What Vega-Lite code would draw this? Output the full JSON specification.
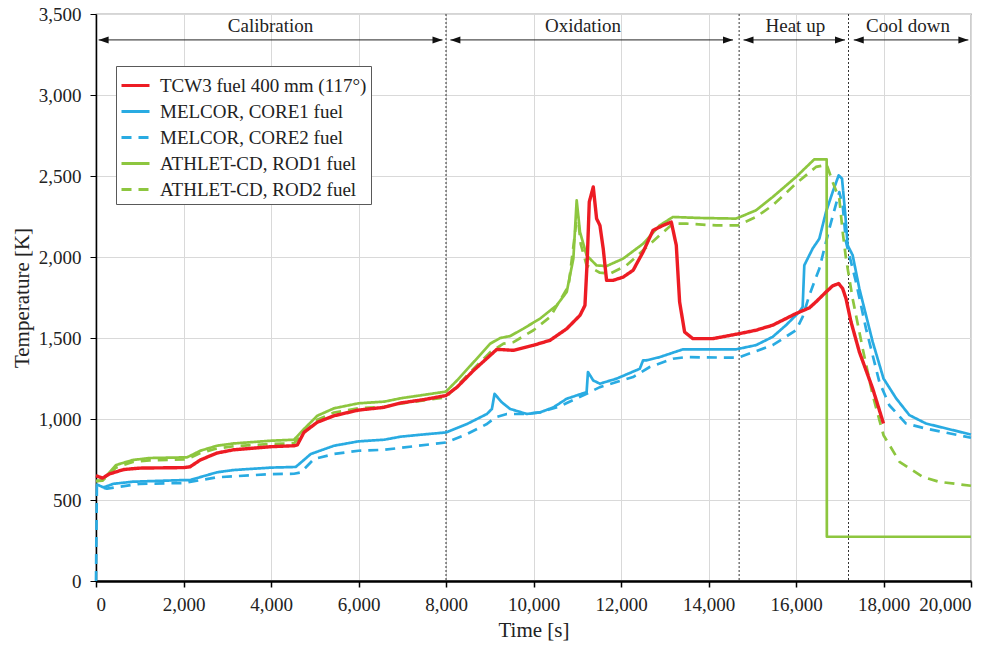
{
  "$schema": "https://vega.github.io/schema/vega-lite/v6.json",
  "width": 875,
  "height": 567,
  "autosize": {"type": "none"},
  "padding": {"left": 96, "top": 14, "right": 32, "bottom": 65},
  "background": "white",
  "config": {
    "font": "Liberation Serif",
    "view": {"stroke": "#595959", "strokeWidth": 1.2},
    "axis": {"grid": true, "gridColor": "#d9d9d9", "gridWidth": 1, "domainColor": "#000", "tickColor": "#000", "tickSize": 6, "labelFont": "Liberation Serif", "labelFontSize": 19, "labelColor": "#222", "titleFont": "Liberation Serif", "titleFontSize": 21, "titleFontWeight": "normal", "titleColor": "#222"},
    "axisX": {"domainWidth": 2.5, "tickWidth": 1.5, "labelPadding": 8, "titlePadding": 5, "tickCount": 10},
    "axisY": {"domainWidth": 1.5, "tickWidth": 1, "labelPadding": 9, "titlePadding": 6, "tickCount": 7},
    "text": {"font": "Liberation Serif"}
  },
  "datasets": {
    "phases": [
      {"phase": "Calibration", "start": 60, "end": 7920, "mid": 3990},
      {"phase": "Oxidation", "start": 8100, "end": 14560, "mid": 11130},
      {"phase": "Heat up", "start": 14800, "end": 17120, "mid": 15985},
      {"phase": "Cool down", "start": 17320, "end": 19940, "mid": 18560}
    ],
    "bounds": [{"t": 8000}, {"t": 14700}, {"t": 17200}],
    "temps": [
      {"series": "TCW3 fuel 400 mm (117°)", "t": 0, "T": 650},
      {"series": "TCW3 fuel 400 mm (117°)", "t": 150, "T": 635},
      {"series": "TCW3 fuel 400 mm (117°)", "t": 300, "T": 660},
      {"series": "TCW3 fuel 400 mm (117°)", "t": 630, "T": 688},
      {"series": "TCW3 fuel 400 mm (117°)", "t": 1000, "T": 697},
      {"series": "TCW3 fuel 400 mm (117°)", "t": 2000, "T": 700},
      {"series": "TCW3 fuel 400 mm (117°)", "t": 2150, "T": 705},
      {"series": "TCW3 fuel 400 mm (117°)", "t": 2384, "T": 747},
      {"series": "TCW3 fuel 400 mm (117°)", "t": 2765, "T": 790},
      {"series": "TCW3 fuel 400 mm (117°)", "t": 3146, "T": 810},
      {"series": "TCW3 fuel 400 mm (117°)", "t": 4000, "T": 829},
      {"series": "TCW3 fuel 400 mm (117°)", "t": 4526, "T": 835},
      {"series": "TCW3 fuel 400 mm (117°)", "t": 4602, "T": 840},
      {"series": "TCW3 fuel 400 mm (117°)", "t": 4754, "T": 918},
      {"series": "TCW3 fuel 400 mm (117°)", "t": 5058, "T": 980},
      {"series": "TCW3 fuel 400 mm (117°)", "t": 5440, "T": 1020},
      {"series": "TCW3 fuel 400 mm (117°)", "t": 6000, "T": 1055},
      {"series": "TCW3 fuel 400 mm (117°)", "t": 6585, "T": 1072},
      {"series": "TCW3 fuel 400 mm (117°)", "t": 6966, "T": 1099},
      {"series": "TCW3 fuel 400 mm (117°)", "t": 7500, "T": 1120},
      {"series": "TCW3 fuel 400 mm (117°)", "t": 8000, "T": 1145},
      {"series": "TCW3 fuel 400 mm (117°)", "t": 8251, "T": 1196},
      {"series": "TCW3 fuel 400 mm (117°)", "t": 8631, "T": 1300},
      {"series": "TCW3 fuel 400 mm (117°)", "t": 9011, "T": 1393},
      {"series": "TCW3 fuel 400 mm (117°)", "t": 9163, "T": 1430},
      {"series": "TCW3 fuel 400 mm (117°)", "t": 9543, "T": 1424},
      {"series": "TCW3 fuel 400 mm (117°)", "t": 10000, "T": 1455},
      {"series": "TCW3 fuel 400 mm (117°)", "t": 10380, "T": 1486},
      {"series": "TCW3 fuel 400 mm (117°)", "t": 10759, "T": 1557},
      {"series": "TCW3 fuel 400 mm (117°)", "t": 11063, "T": 1640},
      {"series": "TCW3 fuel 400 mm (117°)", "t": 11176, "T": 1701},
      {"series": "TCW3 fuel 400 mm (117°)", "t": 11230, "T": 1990},
      {"series": "TCW3 fuel 400 mm (117°)", "t": 11275, "T": 2340},
      {"series": "TCW3 fuel 400 mm (117°)", "t": 11366, "T": 2432},
      {"series": "TCW3 fuel 400 mm (117°)", "t": 11442, "T": 2237},
      {"series": "TCW3 fuel 400 mm (117°)", "t": 11518, "T": 2195},
      {"series": "TCW3 fuel 400 mm (117°)", "t": 11594, "T": 2051},
      {"series": "TCW3 fuel 400 mm (117°)", "t": 11670, "T": 1856},
      {"series": "TCW3 fuel 400 mm (117°)", "t": 11822, "T": 1856},
      {"series": "TCW3 fuel 400 mm (117°)", "t": 12050, "T": 1876},
      {"series": "TCW3 fuel 400 mm (117°)", "t": 12277, "T": 1918},
      {"series": "TCW3 fuel 400 mm (117°)", "t": 12505, "T": 2031},
      {"series": "TCW3 fuel 400 mm (117°)", "t": 12733, "T": 2165},
      {"series": "TCW3 fuel 400 mm (117°)", "t": 12960, "T": 2195},
      {"series": "TCW3 fuel 400 mm (117°)", "t": 13150, "T": 2216},
      {"series": "TCW3 fuel 400 mm (117°)", "t": 13264, "T": 2072},
      {"series": "TCW3 fuel 400 mm (117°)", "t": 13340, "T": 1722},
      {"series": "TCW3 fuel 400 mm (117°)", "t": 13454, "T": 1537},
      {"series": "TCW3 fuel 400 mm (117°)", "t": 13643, "T": 1496},
      {"series": "TCW3 fuel 400 mm (117°)", "t": 14098, "T": 1496},
      {"series": "TCW3 fuel 400 mm (117°)", "t": 14706, "T": 1527},
      {"series": "TCW3 fuel 400 mm (117°)", "t": 15086, "T": 1548},
      {"series": "TCW3 fuel 400 mm (117°)", "t": 15467, "T": 1579},
      {"series": "TCW3 fuel 400 mm (117°)", "t": 16000, "T": 1651},
      {"series": "TCW3 fuel 400 mm (117°)", "t": 16305, "T": 1686},
      {"series": "TCW3 fuel 400 mm (117°)", "t": 16457, "T": 1723},
      {"series": "TCW3 fuel 400 mm (117°)", "t": 16686, "T": 1784},
      {"series": "TCW3 fuel 400 mm (117°)", "t": 16838, "T": 1822},
      {"series": "TCW3 fuel 400 mm (117°)", "t": 16975, "T": 1836},
      {"series": "TCW3 fuel 400 mm (117°)", "t": 17067, "T": 1805},
      {"series": "TCW3 fuel 400 mm (117°)", "t": 17143, "T": 1743},
      {"series": "TCW3 fuel 400 mm (117°)", "t": 17257, "T": 1600},
      {"series": "TCW3 fuel 400 mm (117°)", "t": 17448, "T": 1414},
      {"series": "TCW3 fuel 400 mm (117°)", "t": 17753, "T": 1188},
      {"series": "TCW3 fuel 400 mm (117°)", "t": 18000, "T": 972},

      {"series": "MELCOR, CORE1 fuel", "t": 0, "T": 598},
      {"series": "MELCOR, CORE1 fuel", "t": 170, "T": 578},
      {"series": "MELCOR, CORE1 fuel", "t": 400, "T": 600},
      {"series": "MELCOR, CORE1 fuel", "t": 841, "T": 613},
      {"series": "MELCOR, CORE1 fuel", "t": 2000, "T": 623},
      {"series": "MELCOR, CORE1 fuel", "t": 2150, "T": 623},
      {"series": "MELCOR, CORE1 fuel", "t": 2765, "T": 671},
      {"series": "MELCOR, CORE1 fuel", "t": 3146, "T": 685},
      {"series": "MELCOR, CORE1 fuel", "t": 4000, "T": 700},
      {"series": "MELCOR, CORE1 fuel", "t": 4565, "T": 704},
      {"series": "MELCOR, CORE1 fuel", "t": 4910, "T": 784},
      {"series": "MELCOR, CORE1 fuel", "t": 5440, "T": 835},
      {"series": "MELCOR, CORE1 fuel", "t": 6000, "T": 862},
      {"series": "MELCOR, CORE1 fuel", "t": 6585, "T": 872},
      {"series": "MELCOR, CORE1 fuel", "t": 6966, "T": 891},
      {"series": "MELCOR, CORE1 fuel", "t": 7500, "T": 905},
      {"series": "MELCOR, CORE1 fuel", "t": 8000, "T": 917},
      {"series": "MELCOR, CORE1 fuel", "t": 8479, "T": 969},
      {"series": "MELCOR, CORE1 fuel", "t": 8935, "T": 1031},
      {"series": "MELCOR, CORE1 fuel", "t": 9049, "T": 1062},
      {"series": "MELCOR, CORE1 fuel", "t": 9110, "T": 1155},
      {"series": "MELCOR, CORE1 fuel", "t": 9277, "T": 1103},
      {"series": "MELCOR, CORE1 fuel", "t": 9467, "T": 1062},
      {"series": "MELCOR, CORE1 fuel", "t": 9847, "T": 1031},
      {"series": "MELCOR, CORE1 fuel", "t": 10151, "T": 1041},
      {"series": "MELCOR, CORE1 fuel", "t": 10455, "T": 1072},
      {"series": "MELCOR, CORE1 fuel", "t": 10759, "T": 1125},
      {"series": "MELCOR, CORE1 fuel", "t": 11214, "T": 1166},
      {"series": "MELCOR, CORE1 fuel", "t": 11245, "T": 1290},
      {"series": "MELCOR, CORE1 fuel", "t": 11366, "T": 1238},
      {"series": "MELCOR, CORE1 fuel", "t": 11518, "T": 1218},
      {"series": "MELCOR, CORE1 fuel", "t": 11897, "T": 1249},
      {"series": "MELCOR, CORE1 fuel", "t": 12429, "T": 1310},
      {"series": "MELCOR, CORE1 fuel", "t": 12505, "T": 1362},
      {"series": "MELCOR, CORE1 fuel", "t": 12580, "T": 1362},
      {"series": "MELCOR, CORE1 fuel", "t": 12884, "T": 1382},
      {"series": "MELCOR, CORE1 fuel", "t": 13416, "T": 1430},
      {"series": "MELCOR, CORE1 fuel", "t": 13795, "T": 1430},
      {"series": "MELCOR, CORE1 fuel", "t": 14630, "T": 1430},
      {"series": "MELCOR, CORE1 fuel", "t": 15086, "T": 1456},
      {"series": "MELCOR, CORE1 fuel", "t": 15467, "T": 1507},
      {"series": "MELCOR, CORE1 fuel", "t": 15771, "T": 1579},
      {"series": "MELCOR, CORE1 fuel", "t": 16076, "T": 1661},
      {"series": "MELCOR, CORE1 fuel", "t": 16152, "T": 1692},
      {"series": "MELCOR, CORE1 fuel", "t": 16190, "T": 1949},
      {"series": "MELCOR, CORE1 fuel", "t": 16381, "T": 2052},
      {"series": "MELCOR, CORE1 fuel", "t": 16533, "T": 2113},
      {"series": "MELCOR, CORE1 fuel", "t": 16686, "T": 2278},
      {"series": "MELCOR, CORE1 fuel", "t": 16838, "T": 2401},
      {"series": "MELCOR, CORE1 fuel", "t": 16975, "T": 2504},
      {"series": "MELCOR, CORE1 fuel", "t": 17052, "T": 2484},
      {"series": "MELCOR, CORE1 fuel", "t": 17128, "T": 2257},
      {"series": "MELCOR, CORE1 fuel", "t": 17181, "T": 2072},
      {"series": "MELCOR, CORE1 fuel", "t": 17295, "T": 2011},
      {"series": "MELCOR, CORE1 fuel", "t": 17448, "T": 1805},
      {"series": "MELCOR, CORE1 fuel", "t": 17753, "T": 1476},
      {"series": "MELCOR, CORE1 fuel", "t": 18000, "T": 1250},
      {"series": "MELCOR, CORE1 fuel", "t": 18290, "T": 1127},
      {"series": "MELCOR, CORE1 fuel", "t": 18591, "T": 1024},
      {"series": "MELCOR, CORE1 fuel", "t": 18972, "T": 972},
      {"series": "MELCOR, CORE1 fuel", "t": 20000, "T": 904},

      {"series": "MELCOR, CORE2 fuel", "t": 0, "T": 0},
      {"series": "MELCOR, CORE2 fuel", "t": 20, "T": 585},
      {"series": "MELCOR, CORE2 fuel", "t": 250, "T": 570},
      {"series": "MELCOR, CORE2 fuel", "t": 1000, "T": 600},
      {"series": "MELCOR, CORE2 fuel", "t": 2000, "T": 605},
      {"series": "MELCOR, CORE2 fuel", "t": 2765, "T": 640},
      {"series": "MELCOR, CORE2 fuel", "t": 4000, "T": 660},
      {"series": "MELCOR, CORE2 fuel", "t": 4526, "T": 662},
      {"series": "MELCOR, CORE2 fuel", "t": 4680, "T": 670},
      {"series": "MELCOR, CORE2 fuel", "t": 4983, "T": 753},
      {"series": "MELCOR, CORE2 fuel", "t": 5440, "T": 784},
      {"series": "MELCOR, CORE2 fuel", "t": 6000, "T": 804},
      {"series": "MELCOR, CORE2 fuel", "t": 6585, "T": 810},
      {"series": "MELCOR, CORE2 fuel", "t": 8000, "T": 855},
      {"series": "MELCOR, CORE2 fuel", "t": 8479, "T": 907},
      {"series": "MELCOR, CORE2 fuel", "t": 8935, "T": 969},
      {"series": "MELCOR, CORE2 fuel", "t": 9125, "T": 1010},
      {"series": "MELCOR, CORE2 fuel", "t": 9391, "T": 1031},
      {"series": "MELCOR, CORE2 fuel", "t": 9771, "T": 1031},
      {"series": "MELCOR, CORE2 fuel", "t": 10151, "T": 1041},
      {"series": "MELCOR, CORE2 fuel", "t": 10607, "T": 1079},
      {"series": "MELCOR, CORE2 fuel", "t": 11214, "T": 1156},
      {"series": "MELCOR, CORE2 fuel", "t": 11518, "T": 1197},
      {"series": "MELCOR, CORE2 fuel", "t": 12277, "T": 1259},
      {"series": "MELCOR, CORE2 fuel", "t": 12656, "T": 1321},
      {"series": "MELCOR, CORE2 fuel", "t": 13188, "T": 1372},
      {"series": "MELCOR, CORE2 fuel", "t": 13491, "T": 1382},
      {"series": "MELCOR, CORE2 fuel", "t": 14668, "T": 1378},
      {"series": "MELCOR, CORE2 fuel", "t": 15467, "T": 1456},
      {"series": "MELCOR, CORE2 fuel", "t": 16000, "T": 1548},
      {"series": "MELCOR, CORE2 fuel", "t": 16152, "T": 1630},
      {"series": "MELCOR, CORE2 fuel", "t": 16305, "T": 1764},
      {"series": "MELCOR, CORE2 fuel", "t": 16533, "T": 1928},
      {"series": "MELCOR, CORE2 fuel", "t": 16762, "T": 2175},
      {"series": "MELCOR, CORE2 fuel", "t": 16990, "T": 2401},
      {"series": "MELCOR, CORE2 fuel", "t": 17067, "T": 2319},
      {"series": "MELCOR, CORE2 fuel", "t": 17143, "T": 2093},
      {"series": "MELCOR, CORE2 fuel", "t": 17371, "T": 1846},
      {"series": "MELCOR, CORE2 fuel", "t": 17600, "T": 1558},
      {"series": "MELCOR, CORE2 fuel", "t": 17905, "T": 1229},
      {"series": "MELCOR, CORE2 fuel", "t": 18133, "T": 1085},
      {"series": "MELCOR, CORE2 fuel", "t": 18514, "T": 972},
      {"series": "MELCOR, CORE2 fuel", "t": 18972, "T": 941},
      {"series": "MELCOR, CORE2 fuel", "t": 20000, "T": 884},

      {"series": "ATHLET-CD, ROD1 fuel", "t": 0, "T": 617},
      {"series": "ATHLET-CD, ROD1 fuel", "t": 150, "T": 622},
      {"series": "ATHLET-CD, ROD1 fuel", "t": 460, "T": 716},
      {"series": "ATHLET-CD, ROD1 fuel", "t": 841, "T": 747},
      {"series": "ATHLET-CD, ROD1 fuel", "t": 1222, "T": 759},
      {"series": "ATHLET-CD, ROD1 fuel", "t": 2000, "T": 763},
      {"series": "ATHLET-CD, ROD1 fuel", "t": 2080, "T": 763},
      {"series": "ATHLET-CD, ROD1 fuel", "t": 2384, "T": 804},
      {"series": "ATHLET-CD, ROD1 fuel", "t": 2765, "T": 835},
      {"series": "ATHLET-CD, ROD1 fuel", "t": 3146, "T": 849},
      {"series": "ATHLET-CD, ROD1 fuel", "t": 4000, "T": 866},
      {"series": "ATHLET-CD, ROD1 fuel", "t": 4526, "T": 872},
      {"series": "ATHLET-CD, ROD1 fuel", "t": 4754, "T": 938},
      {"series": "ATHLET-CD, ROD1 fuel", "t": 5058, "T": 1020},
      {"series": "ATHLET-CD, ROD1 fuel", "t": 5440, "T": 1066},
      {"series": "ATHLET-CD, ROD1 fuel", "t": 6000, "T": 1097},
      {"series": "ATHLET-CD, ROD1 fuel", "t": 6585, "T": 1107},
      {"series": "ATHLET-CD, ROD1 fuel", "t": 6966, "T": 1128},
      {"series": "ATHLET-CD, ROD1 fuel", "t": 8000, "T": 1169},
      {"series": "ATHLET-CD, ROD1 fuel", "t": 8251, "T": 1238},
      {"series": "ATHLET-CD, ROD1 fuel", "t": 8631, "T": 1351},
      {"series": "ATHLET-CD, ROD1 fuel", "t": 9011, "T": 1465},
      {"series": "ATHLET-CD, ROD1 fuel", "t": 9239, "T": 1500},
      {"series": "ATHLET-CD, ROD1 fuel", "t": 9467, "T": 1512},
      {"series": "ATHLET-CD, ROD1 fuel", "t": 9771, "T": 1558},
      {"series": "ATHLET-CD, ROD1 fuel", "t": 10151, "T": 1620},
      {"series": "ATHLET-CD, ROD1 fuel", "t": 10531, "T": 1702},
      {"series": "ATHLET-CD, ROD1 fuel", "t": 10759, "T": 1784},
      {"series": "ATHLET-CD, ROD1 fuel", "t": 10911, "T": 1990},
      {"series": "ATHLET-CD, ROD1 fuel", "t": 10987, "T": 2350},
      {"series": "ATHLET-CD, ROD1 fuel", "t": 11063, "T": 2154},
      {"series": "ATHLET-CD, ROD1 fuel", "t": 11214, "T": 2010},
      {"series": "ATHLET-CD, ROD1 fuel", "t": 11442, "T": 1948},
      {"series": "ATHLET-CD, ROD1 fuel", "t": 11670, "T": 1944},
      {"series": "ATHLET-CD, ROD1 fuel", "t": 12050, "T": 1990},
      {"series": "ATHLET-CD, ROD1 fuel", "t": 12505, "T": 2082},
      {"series": "ATHLET-CD, ROD1 fuel", "t": 12884, "T": 2195},
      {"series": "ATHLET-CD, ROD1 fuel", "t": 13188, "T": 2247},
      {"series": "ATHLET-CD, ROD1 fuel", "t": 13795, "T": 2241},
      {"series": "ATHLET-CD, ROD1 fuel", "t": 14630, "T": 2237},
      {"series": "ATHLET-CD, ROD1 fuel", "t": 15086, "T": 2288},
      {"series": "ATHLET-CD, ROD1 fuel", "t": 15467, "T": 2370},
      {"series": "ATHLET-CD, ROD1 fuel", "t": 16000, "T": 2494},
      {"series": "ATHLET-CD, ROD1 fuel", "t": 16419, "T": 2603},
      {"series": "ATHLET-CD, ROD1 fuel", "t": 16701, "T": 2603},
      {"series": "ATHLET-CD, ROD1 fuel", "t": 16705, "T": 273},
      {"series": "ATHLET-CD, ROD1 fuel", "t": 20000, "T": 273},

      {"series": "ATHLET-CD, ROD2 fuel", "t": 0, "T": 617},
      {"series": "ATHLET-CD, ROD2 fuel", "t": 150, "T": 620},
      {"series": "ATHLET-CD, ROD2 fuel", "t": 460, "T": 700},
      {"series": "ATHLET-CD, ROD2 fuel", "t": 841, "T": 735},
      {"series": "ATHLET-CD, ROD2 fuel", "t": 1222, "T": 745},
      {"series": "ATHLET-CD, ROD2 fuel", "t": 2000, "T": 750},
      {"series": "ATHLET-CD, ROD2 fuel", "t": 2080, "T": 752},
      {"series": "ATHLET-CD, ROD2 fuel", "t": 2384, "T": 790},
      {"series": "ATHLET-CD, ROD2 fuel", "t": 2765, "T": 818},
      {"series": "ATHLET-CD, ROD2 fuel", "t": 3146, "T": 832},
      {"series": "ATHLET-CD, ROD2 fuel", "t": 4000, "T": 846},
      {"series": "ATHLET-CD, ROD2 fuel", "t": 4526, "T": 850},
      {"series": "ATHLET-CD, ROD2 fuel", "t": 4754, "T": 915},
      {"series": "ATHLET-CD, ROD2 fuel", "t": 5058, "T": 995},
      {"series": "ATHLET-CD, ROD2 fuel", "t": 5440, "T": 1040},
      {"series": "ATHLET-CD, ROD2 fuel", "t": 6000, "T": 1066},
      {"series": "ATHLET-CD, ROD2 fuel", "t": 6585, "T": 1075},
      {"series": "ATHLET-CD, ROD2 fuel", "t": 6966, "T": 1095},
      {"series": "ATHLET-CD, ROD2 fuel", "t": 8000, "T": 1134},
      {"series": "ATHLET-CD, ROD2 fuel", "t": 8631, "T": 1310},
      {"series": "ATHLET-CD, ROD2 fuel", "t": 9011, "T": 1413},
      {"series": "ATHLET-CD, ROD2 fuel", "t": 9315, "T": 1465},
      {"series": "ATHLET-CD, ROD2 fuel", "t": 9543, "T": 1475},
      {"series": "ATHLET-CD, ROD2 fuel", "t": 10000, "T": 1548},
      {"series": "ATHLET-CD, ROD2 fuel", "t": 10380, "T": 1630},
      {"series": "ATHLET-CD, ROD2 fuel", "t": 10800, "T": 1820},
      {"series": "ATHLET-CD, ROD2 fuel", "t": 10950, "T": 2150},
      {"series": "ATHLET-CD, ROD2 fuel", "t": 11000, "T": 2280},
      {"series": "ATHLET-CD, ROD2 fuel", "t": 11080, "T": 2080},
      {"series": "ATHLET-CD, ROD2 fuel", "t": 11214, "T": 1948},
      {"series": "ATHLET-CD, ROD2 fuel", "t": 11518, "T": 1903},
      {"series": "ATHLET-CD, ROD2 fuel", "t": 11746, "T": 1897},
      {"series": "ATHLET-CD, ROD2 fuel", "t": 12126, "T": 1948},
      {"series": "ATHLET-CD, ROD2 fuel", "t": 12505, "T": 2041},
      {"series": "ATHLET-CD, ROD2 fuel", "t": 12884, "T": 2134},
      {"series": "ATHLET-CD, ROD2 fuel", "t": 13188, "T": 2206},
      {"series": "ATHLET-CD, ROD2 fuel", "t": 13491, "T": 2206},
      {"series": "ATHLET-CD, ROD2 fuel", "t": 14174, "T": 2195},
      {"series": "ATHLET-CD, ROD2 fuel", "t": 14668, "T": 2195},
      {"series": "ATHLET-CD, ROD2 fuel", "t": 15086, "T": 2247},
      {"series": "ATHLET-CD, ROD2 fuel", "t": 15467, "T": 2319},
      {"series": "ATHLET-CD, ROD2 fuel", "t": 16000, "T": 2453},
      {"series": "ATHLET-CD, ROD2 fuel", "t": 16457, "T": 2556},
      {"series": "ATHLET-CD, ROD2 fuel", "t": 16701, "T": 2570},
      {"series": "ATHLET-CD, ROD2 fuel", "t": 16838, "T": 2463},
      {"series": "ATHLET-CD, ROD2 fuel", "t": 16990, "T": 2360},
      {"series": "ATHLET-CD, ROD2 fuel", "t": 17067, "T": 2155},
      {"series": "ATHLET-CD, ROD2 fuel", "t": 17143, "T": 1990},
      {"series": "ATHLET-CD, ROD2 fuel", "t": 17295, "T": 1743},
      {"series": "ATHLET-CD, ROD2 fuel", "t": 17524, "T": 1435},
      {"series": "ATHLET-CD, ROD2 fuel", "t": 17753, "T": 1147},
      {"series": "ATHLET-CD, ROD2 fuel", "t": 18000, "T": 900},
      {"series": "ATHLET-CD, ROD2 fuel", "t": 18366, "T": 736},
      {"series": "ATHLET-CD, ROD2 fuel", "t": 18896, "T": 643},
      {"series": "ATHLET-CD, ROD2 fuel", "t": 19276, "T": 612},
      {"series": "ATHLET-CD, ROD2 fuel", "t": 20000, "T": 588}
    ]
  },
  "layer": [
    {
      "data": {"name": "bounds"},
      "mark": {"type": "rule", "color": "#333", "strokeWidth": 1, "strokeDash": [2, 2]},
      "encoding": {
        "x": {"field": "t", "type": "quantitative", "scale": {"domain": [0, 20000], "nice": false}, "title": "Time [s]", "axis": {"format": ",d", "labelFont": "Liberation Serif", "labelFontSize": 19}}
      }
    },
    {
      "data": {"name": "phases"},
      "mark": {"type": "rule", "color": "#222", "strokeWidth": 1},
      "encoding": {
        "x": {"field": "start", "type": "quantitative", "scale": {"domain": [0, 20000], "nice": false}, "title": "Time [s]", "axis": {"format": ",d", "labelFont": "Liberation Serif", "labelFontSize": 19}},
        "x2": {"field": "end"},
        "y": {"datum": 3340, "type": "quantitative", "scale": {"domain": [0, 3500], "nice": false}, "title": "Temperature [K]", "axis": {"format": ",d", "labelFont": "Liberation Serif", "labelFontSize": 19}}
      }
    },
    {
      "data": {"name": "phases"},
      "mark": {"type": "point", "shape": "M0,0L2,-0.7L2,0.7Z", "filled": true, "color": "#111", "size": 100, "opacity": 1},
      "encoding": {
        "x": {"field": "start", "type": "quantitative", "scale": {"domain": [0, 20000], "nice": false}, "title": "Time [s]", "axis": {"format": ",d", "labelFont": "Liberation Serif", "labelFontSize": 19}},
        "y": {"datum": 3340, "type": "quantitative", "scale": {"domain": [0, 3500], "nice": false}, "title": "Temperature [K]", "axis": {"format": ",d", "labelFont": "Liberation Serif", "labelFontSize": 19}}
      }
    },
    {
      "data": {"name": "phases"},
      "mark": {"type": "point", "shape": "M0,0L-2,-0.7L-2,0.7Z", "filled": true, "color": "#111", "size": 100, "opacity": 1},
      "encoding": {
        "x": {"field": "end", "type": "quantitative", "scale": {"domain": [0, 20000], "nice": false}, "title": "Time [s]", "axis": {"format": ",d", "labelFont": "Liberation Serif", "labelFontSize": 19}},
        "y": {"datum": 3340, "type": "quantitative", "scale": {"domain": [0, 3500], "nice": false}, "title": "Temperature [K]", "axis": {"format": ",d", "labelFont": "Liberation Serif", "labelFontSize": 19}}
      }
    },
    {
      "data": {"name": "phases"},
      "mark": {"type": "text", "font": "Liberation Serif", "fontSize": 19, "color": "#222", "baseline": "middle", "align": "center"},
      "encoding": {
        "x": {"field": "mid", "type": "quantitative", "scale": {"domain": [0, 20000], "nice": false}, "title": "Time [s]", "axis": {"format": ",d", "labelFont": "Liberation Serif", "labelFontSize": 19}},
        "y": {"datum": 3425, "type": "quantitative", "scale": {"domain": [0, 3500], "nice": false}, "title": "Temperature [K]", "axis": {"format": ",d", "labelFont": "Liberation Serif", "labelFontSize": 19}},
        "text": {"field": "phase", "type": "nominal"}
      }
    },
    {
      "data": {"name": "temps"},
      "transform": [{"filter": "datum.series !== 'TCW3 fuel 400 mm (117°)'"}],
      "mark": {"type": "line", "strokeJoin": "round", "strokeWidth": 2.7},
      "encoding": {
        "x": {"field": "t", "type": "quantitative", "scale": {"domain": [0, 20000], "nice": false}, "title": "Time [s]", "axis": {"format": ",d", "labelFont": "Liberation Serif", "labelFontSize": 19}},
        "y": {"field": "T", "type": "quantitative", "scale": {"domain": [0, 3500], "nice": false}, "title": "Temperature [K]", "axis": {"format": ",d", "labelFont": "Liberation Serif", "labelFontSize": 19}},
        "color": {
          "field": "series", "type": "nominal",
          "scale": {
            "domain": ["TCW3 fuel 400 mm (117°)", "MELCOR, CORE1 fuel", "MELCOR, CORE2 fuel", "ATHLET-CD, ROD1 fuel", "ATHLET-CD, ROD2 fuel"],
            "range": ["#ed1c24", "#29abe2", "#29abe2", "#8dc63f", "#8dc63f"]
          },
          "legend": {
            "title": null, "orient": "none", "legendX": 20, "legendY": 52,
            "strokeColor": "#595959", "fillColor": "white", "padding": 4,
            "symbolType": "stroke", "symbolSize": 784, "symbolStrokeWidth": 3,
            "labelFont": "Liberation Serif", "labelFontSize": 19, "labelColor": "#222", "labelLimit": 400, "labelOffset": 9,
            "rowPadding": 0
          }
        },
        "strokeDash": {
          "field": "series", "type": "nominal",
          "scale": {
            "domain": ["TCW3 fuel 400 mm (117°)", "MELCOR, CORE1 fuel", "MELCOR, CORE2 fuel", "ATHLET-CD, ROD1 fuel", "ATHLET-CD, ROD2 fuel"],
            "range": [[1, 0], [1, 0], [10, 7], [1, 0], [10, 7]]
          }
        }
      }
    },
    {
      "data": {"name": "temps"},
      "transform": [{"filter": "datum.series === 'TCW3 fuel 400 mm (117°)'"}],
      "mark": {"type": "line", "strokeJoin": "round", "strokeWidth": 3.4},
      "encoding": {
        "x": {"field": "t", "type": "quantitative", "scale": {"domain": [0, 20000], "nice": false}, "title": "Time [s]", "axis": {"format": ",d", "labelFont": "Liberation Serif", "labelFontSize": 19}},
        "y": {"field": "T", "type": "quantitative", "scale": {"domain": [0, 3500], "nice": false}, "title": "Temperature [K]", "axis": {"format": ",d", "labelFont": "Liberation Serif", "labelFontSize": 19}},
        "color": {
          "field": "series", "type": "nominal",
          "scale": {
            "domain": ["TCW3 fuel 400 mm (117°)", "MELCOR, CORE1 fuel", "MELCOR, CORE2 fuel", "ATHLET-CD, ROD1 fuel", "ATHLET-CD, ROD2 fuel"],
            "range": ["#ed1c24", "#29abe2", "#29abe2", "#8dc63f", "#8dc63f"]
          },
          "legend": {
            "title": null, "orient": "none", "legendX": 20, "legendY": 52,
            "strokeColor": "#595959", "fillColor": "white", "padding": 4,
            "symbolType": "stroke", "symbolSize": 784, "symbolStrokeWidth": 3,
            "labelFont": "Liberation Serif", "labelFontSize": 19, "labelColor": "#222", "labelLimit": 400, "labelOffset": 9,
            "rowPadding": 0
          }
        },
        "strokeDash": {
          "field": "series", "type": "nominal",
          "scale": {
            "domain": ["TCW3 fuel 400 mm (117°)", "MELCOR, CORE1 fuel", "MELCOR, CORE2 fuel", "ATHLET-CD, ROD1 fuel", "ATHLET-CD, ROD2 fuel"],
            "range": [[1, 0], [1, 0], [10, 7], [1, 0], [10, 7]]
          }
        }
      }
    }
  ]
}
